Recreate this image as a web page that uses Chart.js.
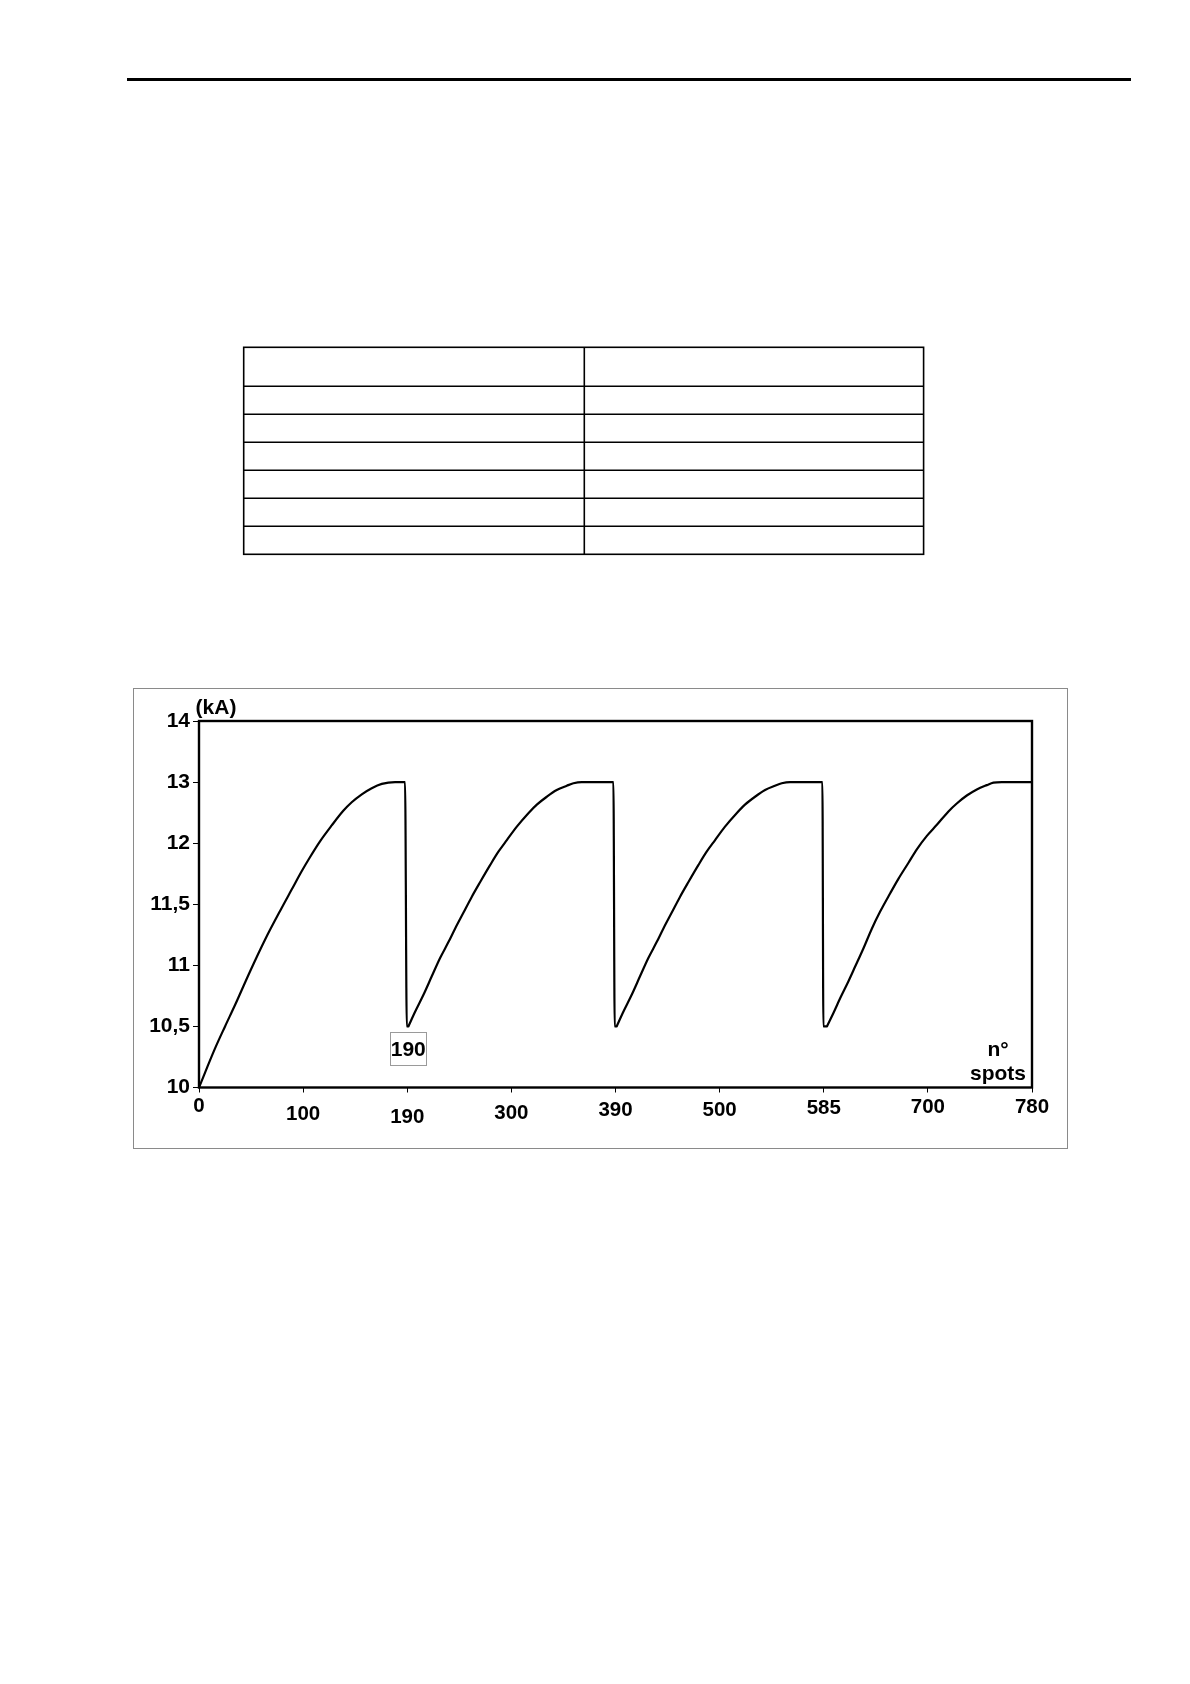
<!DOCTYPE html>
<html>
<head>
<meta charset="utf-8">
<script src="https://cdn.jsdelivr.net/npm/chart.js@4.4.1/dist/chart.umd.min.js"></script>
<style>
html,body{margin:0;padding:0;background:#fff;}
body{width:1190px;height:1684px;position:relative;overflow:hidden;font-family:'Liberation Sans',Arial,sans-serif;}
#rule{position:absolute;left:127px;top:78px;width:1004px;height:3px;background:#000;}
#tbl{position:absolute;left:0;top:0;}
#frame{position:absolute;left:133px;top:688px;width:935px;height:461px;box-sizing:border-box;border:1px solid #8a8a8a;}
#wrap{position:absolute;left:133px;top:688px;width:935px;height:461px;}
</style>
</head>
<body>
<div id="rule"></div>
<svg id="tbl" width="1190" height="600" xmlns="http://www.w3.org/2000/svg">
  <g stroke="#000" stroke-width="1.6" fill="none">
    <rect x="243.7" y="347.3" width="679.9" height="207"/>
    <line x1="584.3" y1="347.3" x2="584.3" y2="554.3"/>
    <line x1="243.7" y1="386.3" x2="923.6" y2="386.3"/>
    <line x1="243.7" y1="414.3" x2="923.6" y2="414.3"/>
    <line x1="243.7" y1="442.3" x2="923.6" y2="442.3"/>
    <line x1="243.7" y1="470.3" x2="923.6" y2="470.3"/>
    <line x1="243.7" y1="498.3" x2="923.6" y2="498.3"/>
    <line x1="243.7" y1="526.3" x2="923.6" y2="526.3"/>
  </g>
</svg>
<div id="frame"></div>
<div id="wrap"><canvas id="c" width="935" height="461"></canvas></div>
<script>
// ---- data ----
const xTicks = [0, 100, 190, 300, 390, 500, 585, 700, 780];
const yTicks = [10, 10.5, 11, 11.5, 12, 13, 14];

// each cycle: rise to 13 kA, then the drop back to 10,5 kA
const spots1 = [0,15.4,25,34.6,49,63.4,79.4,89,98.6,105.9,114.6,124.7,134.7,142,150.7,159.3,168,179.5,188.1,189.6,191.2];
const kA1    = [10,10.32,10.5,10.675,10.95,11.21,11.47,11.62,11.77,11.885,12.03,12.29,12.53,12.67,12.8,12.9,12.97,13,13,10.5,10.5];
const spots2 = [191.2,198.3,207,215.9,224.7,233.5,240.5,249.3,258.1,266.9,277.5,286.3,295.2,304.7,314.7,322,330.6,339.2,347.9,353.6,360.8,388.2,389.3,391.2];
const kA2    = [10.5,10.62,10.757,10.91,11.06,11.19,11.3,11.43,11.56,11.68,11.82,11.93,12.05,12.27,12.49,12.63,12.76,12.87,12.94,12.98,13,13,10.5,10.5];
const spots3 = [391.2,398.3,407,415.9,424.7,433.5,440.5,449.3,458.1,466.9,477.5,486.3,495.2,504.4,513.9,520.7,528.9,537.1,545.2,550.7,557.5,583.9,584.7,588.5];
const kA3    = [10.5,10.62,10.757,10.91,11.06,11.19,11.3,11.43,11.56,11.68,11.82,11.93,12.05,12.27,12.49,12.63,12.76,12.87,12.94,12.98,13,13,10.5,10.5];
const spots4 = [588.5,595.7,603.1,612.3,619.7,628.9,638.1,647.3,658.4,667.6,678.6,687.8,698.9,706.9,715.8,722.2,729.9,737.6,745.3,750.4,756.8,780];
const kA4    = [10.5,10.61,10.73,10.87,10.99,11.14,11.3,11.44,11.59,11.71,11.84,11.95,12.12,12.3,12.52,12.65,12.78,12.88,12.95,12.99,13,13];

const cycles = [[spots1, kA1], [spots2, kA2], [spots3, kA3], [spots4, kA4]];

const yUnit = '(kA)';
const xUnit = ['n°', 'spots'];
const markLabel = '190';
const markX = 190, markY = 10.5;

const fmt = v => String(v).replace('.', ',');

// piecewise scale: tick values evenly spaced
function makeScale(id, breaks) {
  return class extends Chart.LinearScale {
    static id = id;
    determineDataLimits() { this.min = breaks[0]; this.max = breaks[breaks.length - 1]; }
    buildTicks() { return breaks.map(v => ({ value: v })); }
    getPixelForValue(value) {
      if (value === null || value === undefined || isNaN(value)) return NaN;
      const n = breaks.length - 1;
      let i = 0;
      while (i < n - 1 && value > breaks[i + 1]) i++;
      const pos = i + (value - breaks[i]) / (breaks[i + 1] - breaks[i]);
      return this.getPixelForDecimal(pos / n);
    }
    getValueForPixel(pixel) {
      const n = breaks.length - 1;
      const pos = this.getDecimalForPixel(pixel) * n;
      const i = Math.max(0, Math.min(n - 1, Math.floor(pos)));
      return breaks[i] + (pos - i) * (breaks[i + 1] - breaks[i]);
    }
  };
}
Chart.register(makeScale('pwx', xTicks), makeScale('pwy', yTicks));

const FONT = '"Liberation Sans", Arial, sans-serif';

// cycles joined with gaps so each rise is its own smooth piece
const lineData = [];
cycles.forEach(([xs, ys], k) => {
  if (k > 0) lineData.push({ x: xs[0], y: null });
  xs.forEach((s, i) => lineData.push({ x: s, y: ys[i] }));
});

const deco = {
  id: 'deco',
  afterDraw(chart, args, o) {
    const { ctx, chartArea: a, scales: { x, y } } = chart;
    ctx.save();
    ctx.strokeStyle = '#000';
    ctx.lineWidth = 2.4;
    ctx.strokeRect(a.left, a.top, a.right - a.left, a.bottom - a.top);
    ctx.fillStyle = '#000';
    ctx.font = 'bold 20.5px ' + FONT;
    ctx.textAlign = 'center';
    ctx.textBaseline = 'middle';
    xTicks.forEach((t, i) => {
      ctx.fillText(String(t), x.getPixelForValue(t), a.bottom + o.xLabelDy[i]);
    });
    // unit labels
    ctx.font = 'bold 21px ' + FONT;
    ctx.fillText(yUnit, a.left + 17, a.top - 13);
    ctx.textBaseline = 'alphabetic';
    ctx.fillText(xUnit[0], a.right - 34, a.bottom - 31.5);
    ctx.fillText(xUnit[1], a.right - 34, a.bottom - 7.5);
    // boxed marker label
    const mx = x.getPixelForValue(markX) + 1, my = y.getPixelForValue(markY);
    ctx.strokeStyle = '#9a9a9a';
    ctx.lineWidth = 1;
    ctx.strokeRect(Math.round(mx - 18.4) + 0.5, Math.round(my + 6) + 0.5, 36, 33);
    ctx.textBaseline = 'middle';
    ctx.fillText(markLabel, mx, my + 23.5);
    ctx.restore();
  }
};

new Chart(document.getElementById('c'), {
  type: 'line',
  data: {
    datasets: [{
      data: lineData,
      borderColor: '#000',
      borderWidth: 2.2,
      pointRadius: 0,
      cubicInterpolationMode: 'monotone',
      spanGaps: false,
      borderCapStyle: 'round',
      borderJoinStyle: 'round',
      fill: false
    }]
  },
  options: {
    responsive: false,
    animation: false,
    devicePixelRatio: 1,
    layout: { padding: { top: 33, right: 36, left: 0, bottom: 0 } },
    plugins: {
      legend: { display: false },
      tooltip: { enabled: false },
      deco: { xLabelDy: [19.2, 26.5, 29.8, 25.8, 23.2, 22.5, 20.5, 19.5, 19.5] }
    },
    scales: {
      x: {
        type: 'pwx',
        afterFit: s => { s.height = 61.5; },
        grid: { drawOnChartArea: false, drawTicks: true, tickLength: 5, color: '#000', lineWidth: 1 },
        border: { display: false },
        ticks: { display: false, autoSkip: false }
      },
      y: {
        type: 'pwy',
        afterFit: s => { s.width = 66; },
        grid: { drawOnChartArea: false, drawTicks: true, tickLength: 6, color: '#000', lineWidth: 1 },
        border: { display: false },
        ticks: {
          autoSkip: false,
          padding: 3,
          color: '#000',
          font: { family: FONT, size: 21, weight: 'bold' },
          callback: v => fmt(v)
        }
      }
    }
  },
  plugins: [deco]
});
</script>
</body>
</html>
